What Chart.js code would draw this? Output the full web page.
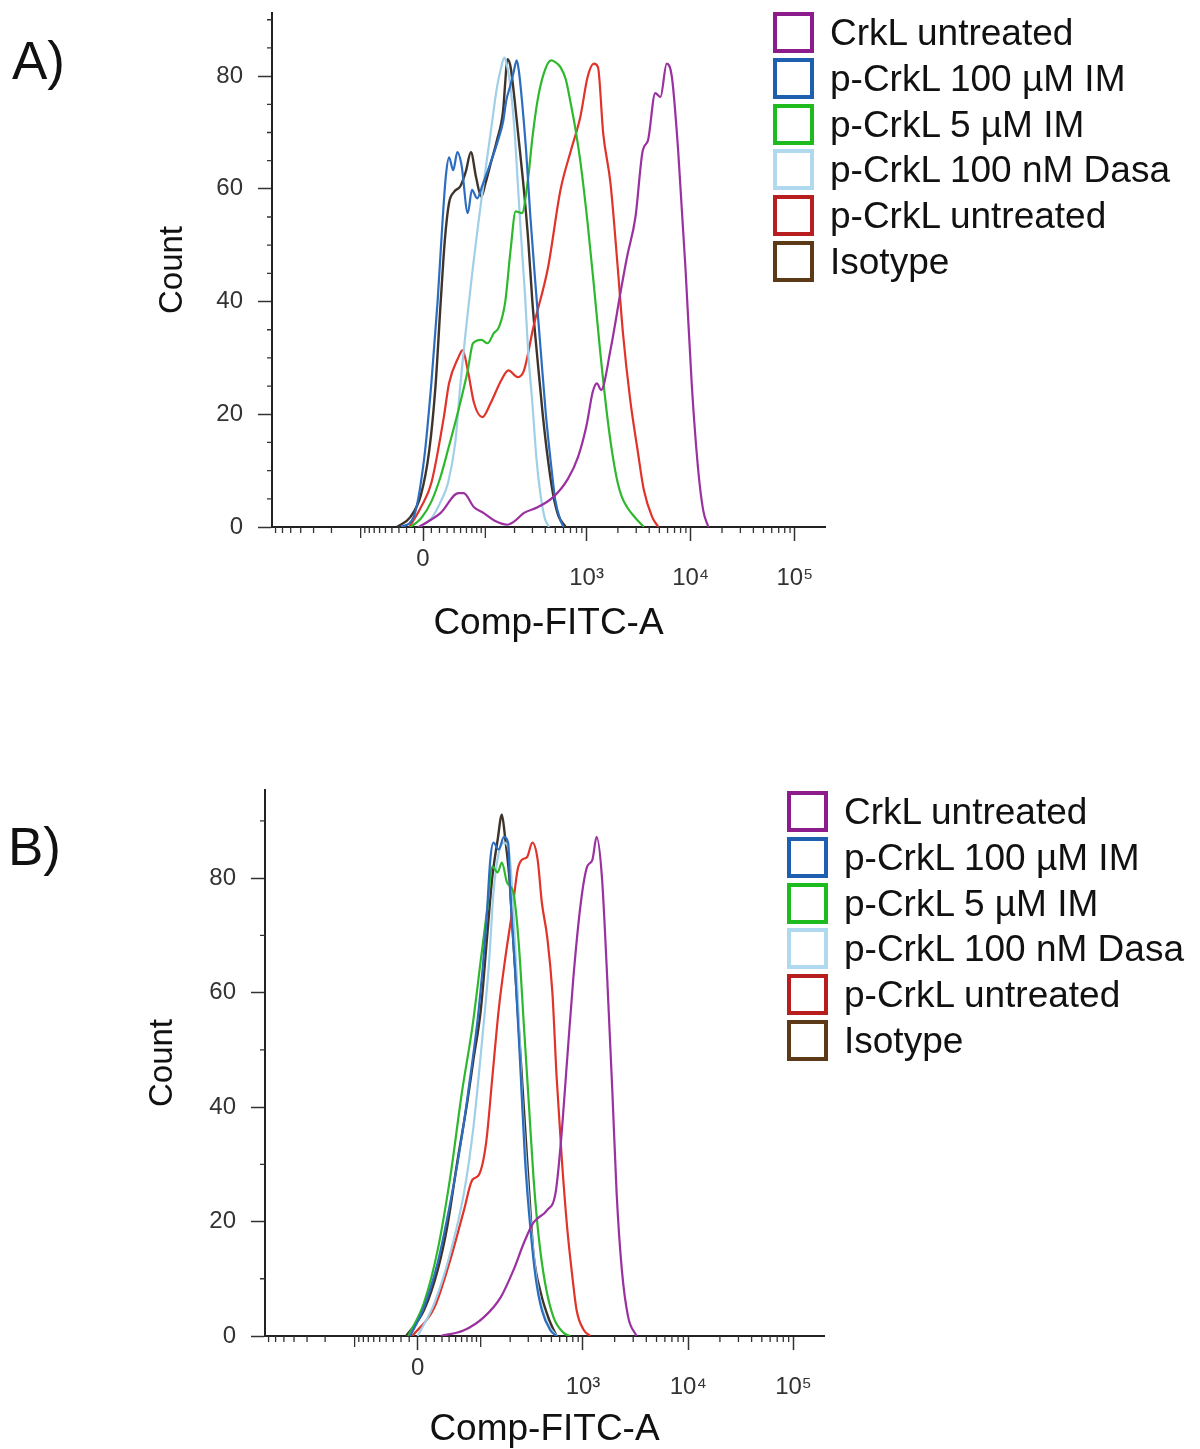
<!DOCTYPE html>
<html>
<head>
<meta charset="utf-8">
<title>CrkL / p-CrkL flow histograms</title>
<script src="https://cdn.jsdelivr.net/npm/chart.js@4.4.1/dist/chart.umd.min.js"></script>
<style>
  body { margin: 0; background: #fff; font-family: "Liberation Sans", Arial, sans-serif; }
  .panel { position: absolute; left: 0; width: 1200px; }
  .tag { position: absolute; font-size: 53px; line-height: 53px; color: #111; }
  .legend { position: absolute; }
  .legend .item { height: 45.7px; display: flex; align-items: center; font-size: 37px; line-height: 37px; color: #111; white-space: nowrap; }
  .legend .box { width: 41px; height: 41px; border: 4px solid; box-sizing: border-box; background: #fff; margin-right: 16px; }
</style>
</head>
<body>
<div class="panel" style="top:0; height:724px">
  <canvas id="chartA" width="1200" height="724"></canvas>
  <div class="tag" style="left:12px; top:34px">A)</div>
  <div class="legend" id="legendA" style="left:773px; top:10px"></div>
</div>
<div class="panel" style="top:724px; height:725px">
  <canvas id="chartB" width="1200" height="725"></canvas>
  <div class="tag" style="left:8px; top:96px">B)</div>
  <div class="legend" id="legendB" style="left:787px; top:65px"></div>
</div>
<script>
// series, in legend order
const seriesLabels = ['CrkL untreated', 'p-CrkL 100 µM IM', 'p-CrkL 5 µM IM', 'p-CrkL 100 nM Dasa', 'p-CrkL untreated', 'Isotype'];
const legendColors = ['#8C1C8C', '#1F5FAF', '#1EBB1E', '#B0D8EE', '#B81E1E', '#5C3A17'];
const lineColors = ['#9B30A0', '#2C6DC0', '#2EB82E', '#A0CFE8', '#E0332A', '#3E342C'];

// x is in display units (decades on the biexponential axis, 0 = zero), y is count
const aCrklUntreated = [[-0.04,0],[0.17,2.5],[0.34,6],[0.39,6],[0.49,3.5],[0.58,2.5],[0.68,1.2],[0.81,0.4],[0.87,0.9],[0.97,2.5],[1.10,3.5],[1.25,5.3],[1.39,8.5],[1.49,12.5],[1.57,18],[1.63,24],[1.67,25.5],[1.71,24.3],[1.80,31.4],[1.90,42],[1.96,48],[2.04,55],[2.11,66.8],[2.16,68.6],[2.23,77],[2.28,76.3],[2.34,82.2],[2.39,79.8],[2.45,66.8],[2.52,46],[2.58,25.5],[2.64,10.6],[2.69,3],[2.74,0]];
const aP100IM = [[-0.21,0],[-0.09,1.8],[0.01,12],[0.08,25.5],[0.14,40],[0.19,55],[0.22,62.4],[0.25,65.6],[0.29,63.3],[0.33,66.5],[0.37,64.2],[0.43,55.7],[0.47,59.8],[0.52,58.3],[0.57,60.6],[0.65,64.7],[0.72,68.6],[0.77,72],[0.80,75.7],[0.84,78.4],[0.87,80.7],[0.90,82.8],[0.92,81],[0.95,75.7],[0.99,66.8],[1.03,55.3],[1.08,43],[1.13,31.4],[1.18,19.9],[1.23,11],[1.27,4.8],[1.32,1.2],[1.35,0]];
const aP5IM = [[-0.12,0],[-0.02,1.5],[0.08,4.5],[0.17,9],[0.24,13.7],[0.34,20.7],[0.43,27.8],[0.48,32.6],[0.56,33.2],[0.62,32.6],[0.68,34.4],[0.73,35.5],[0.79,40],[0.84,49],[0.89,56],[0.95,55.7],[1.01,62],[1.05,69],[1.10,75.7],[1.16,80.5],[1.23,82.8],[1.27,82.5],[1.32,81.6],[1.37,79.5],[1.42,75],[1.46,71],[1.51,65],[1.58,54],[1.64,43],[1.70,31.4],[1.77,19.5],[1.82,12.8],[1.87,7.8],[1.91,5.3],[1.96,3.5],[2.04,1.6],[2.12,0]];
const aP100Dasa = [[-0.04,0],[0.08,1.5],[0.17,4.5],[0.24,7.8],[0.31,15],[0.36,25.5],[0.46,43],[0.56,58],[0.65,70],[0.71,78],[0.75,81.5],[0.78,83.3],[0.80,82.4],[0.84,78],[0.88,70],[0.91,61],[0.94,52],[0.98,41],[1.01,31],[1.05,22],[1.09,12],[1.13,5.5],[1.17,1.5],[1.21,0]];
const aPUntreated = [[-0.13,0],[-0.02,3.5],[0.08,7.8],[0.20,19.5],[0.25,25.5],[0.34,30.1],[0.38,31.4],[0.43,27.8],[0.49,22],[0.57,19.5],[0.65,22],[0.75,26],[0.82,27.8],[0.91,26.6],[0.97,27.8],[1.06,35.5],[1.20,46],[1.32,59.8],[1.42,66.8],[1.51,72.7],[1.58,79.8],[1.64,82.2],[1.68,81.6],[1.73,69.9],[1.80,61],[1.87,46],[1.92,34.4],[1.99,22.5],[2.06,13.7],[2.12,6.6],[2.20,1.8],[2.26,0]];
const aIsotype = [[-0.25,0],[-0.12,1.8],[-0.02,5.7],[0.06,13.6],[0.12,25],[0.17,40],[0.21,51],[0.25,57.5],[0.30,59.5],[0.36,60.5],[0.41,63],[0.46,66.5],[0.51,62],[0.56,58.6],[0.60,61],[0.65,64.5],[0.71,68.6],[0.77,74],[0.79,79],[0.81,83],[0.84,81.7],[0.88,75.7],[0.92,68.6],[0.96,61.5],[1.01,51],[1.05,40],[1.10,29.6],[1.15,19.9],[1.20,11.9],[1.25,5.7],[1.30,2],[1.37,0]];

const bCrklUntreated = [[0.22,0],[0.44,1],[0.63,3.3],[0.79,6.8],[0.91,11.5],[1.01,16.3],[1.10,19.8],[1.23,22],[1.31,25],[1.36,33.7],[1.42,48.3],[1.48,62.8],[1.55,75.7],[1.61,82],[1.66,83.2],[1.70,87.2],[1.75,80.3],[1.80,62.8],[1.85,42.5],[1.89,25],[1.94,11.5],[2.00,3.3],[2.08,0]];
const bP100IM = [[-0.07,0],[0.06,5],[0.19,12.8],[0.31,23.3],[0.41,33.7],[0.50,45.3],[0.58,57],[0.65,71.5],[0.69,83.2],[0.72,86.2],[0.77,85],[0.82,87.2],[0.86,86.2],[0.88,77.4],[0.93,62.8],[0.98,45.3],[1.02,30.8],[1.07,19],[1.12,10.3],[1.18,4.5],[1.26,1],[1.32,0]];
const bP5IM = [[-0.09,0],[0.06,5.8],[0.19,15],[0.31,27.8],[0.42,42.5],[0.52,54],[0.60,65.7],[0.66,74.5],[0.71,82],[0.76,81],[0.80,82.7],[0.85,79.2],[0.91,77.4],[0.96,68.7],[1.01,54],[1.06,39.5],[1.10,27.8],[1.15,17.3],[1.21,9.3],[1.29,3.3],[1.39,0.5],[1.45,0]];
const bP100Dasa = [[0,0],[0.16,5.8],[0.31,14.5],[0.44,25],[0.53,36.5],[0.61,51.2],[0.68,65.7],[0.72,77.4],[0.77,84.4],[0.82,86.2],[0.87,84.4],[0.90,77.4],[0.95,60],[0.99,42.5],[1.04,27.8],[1.09,16.3],[1.15,7.5],[1.23,2.3],[1.32,0]];
const bPUntreated = [[-0.05,0],[0.16,5],[0.31,13.3],[0.44,22],[0.52,27.3],[0.58,28.1],[0.65,33.7],[0.71,45.3],[0.77,57],[0.83,65.7],[0.90,74.5],[0.95,81.5],[0.99,83.2],[1.04,83.7],[1.09,86.2],[1.14,83.2],[1.18,75.7],[1.23,69.8],[1.28,60],[1.32,45.3],[1.37,30.8],[1.42,19],[1.47,10.3],[1.51,4.5],[1.58,1],[1.64,0]];
const bIsotype = [[-0.11,0],[0.06,4.5],[0.19,11.5],[0.28,19],[0.38,30.8],[0.47,40.7],[0.53,48.3],[0.60,57],[0.66,69.8],[0.71,80.3],[0.76,86.7],[0.80,91.1],[0.83,87.2],[0.87,80.3],[0.91,68.7],[0.96,54],[1.01,39.5],[1.06,25],[1.10,14.5],[1.17,7.5],[1.25,2.8],[1.32,0]];

// axis ticks
const xTickValues = [0, 1000, 10000, 100000];
const xTickLabels = ['0', '10³', '10⁴', '10⁵'];
const yTickValues = [0, 20, 40, 60, 80];

// biexponential display transform (channel value -> decades on screen)
const biexWidth = 26.9;
function biex(v) {
  return Math.asinh(v / (2 * biexWidth)) / Math.LN10;
}

const xMinorValues = [];
[10, 100, 1000, 10000].forEach(d => {
  for (let k = 1; k <= 9; k++) {
    if (d * k === 1000 || d * k === 10000) continue;
    xMinorValues.push(d * k, -d * k);
  }
});

Chart.defaults.font.family = '"Liberation Sans", Arial, sans-serif';
Chart.defaults.color = '#333';

const minorTicks = {
  id: 'minorTicks',
  afterDraw(chart, args, opts) {
    const { ctx, scales: { x, y } } = chart;
    ctx.save();
    ctx.strokeStyle = '#333';
    ctx.lineWidth = 1.3;
    ctx.beginPath();
    xMinorValues.forEach(v => {
      const px = x.getPixelForValue(biex(v));
      if (px < x.left + 1 || px > x.right) return;
      const len = Math.abs(v) === 100 ? 11 : 6;
      ctx.moveTo(px, y.bottom);
      ctx.lineTo(px, y.bottom + len);
    });
    opts.yValues.forEach(v => {
      const py = y.getPixelForValue(v);
      ctx.moveTo(x.left - 5, py);
      ctx.lineTo(x.left, py);
    });
    ctx.stroke();
    ctx.restore();
  }
};

function makeChart(id, series, cfg) {
  const datasets = series.map((pts, i) => ({
    label: seriesLabels[i],
    data: pts.map(p => ({ x: p[0], y: p[1] })),
    borderColor: lineColors[i],
    borderWidth: i === 5 ? 2.4 : 2.2,
    pointRadius: 0,
    fill: false,
    cubicInterpolationMode: 'monotone'
  }));

  return new Chart(document.getElementById(id), {
    type: 'line',
    data: { datasets: datasets },
    options: {
      responsive: false,
      animation: false,
      layout: { padding: cfg.padding },
      plugins: {
        legend: { display: false },
        tooltip: { enabled: false },
        minorTicks: { yValues: cfg.yMinor }
      },
      scales: {
        x: {
          type: 'linear',
          min: -1.45,
          max: 3.86,
          afterBuildTicks: scale => { scale.ticks = xTickValues.map(v => ({ value: biex(v) })); },
          afterFit: scale => { scale.height = cfg.xHeight; scale.paddingLeft = 0; scale.paddingRight = 0; },
          ticks: {
            autoSkip: false,
            maxRotation: 0,
            padding: 9,
            color: '#333',
            font: { size: 24, lineHeight: 0.78 },
            callback: (value, index) => index === 0 ? xTickLabels[0] : ['', xTickLabels[index]]
          },
          grid: { drawOnChartArea: false, drawTicks: true, tickLength: 14, tickColor: '#333', tickWidth: 1.5 },
          border: { display: true, color: '#222', width: 2 },
          title: {
            display: true,
            text: 'Comp-FITC-A',
            color: '#111',
            font: { size: 37, lineHeight: 1 },
            padding: { top: 0, bottom: cfg.xTitlePad }
          }
        },
        y: {
          min: 0,
          max: cfg.yMax,
          afterBuildTicks: scale => { scale.ticks = yTickValues.map(v => ({ value: v })); },
          afterFit: scale => { scale.width = cfg.yWidth; scale.paddingTop = 0; scale.paddingBottom = 0; },
          ticks: { padding: 15, color: '#333', font: { size: 24 } },
          grid: { drawOnChartArea: false, drawTicks: true, tickLength: 14, tickColor: '#333', tickWidth: 1.5 },
          border: { display: true, color: '#222', width: 2 },
          title: {
            display: true,
            text: 'Count',
            color: '#111',
            font: { size: 33, lineHeight: 1.2 },
            padding: { top: 0, bottom: 0 }
          }
        }
      }
    },
    plugins: [minorTicks]
  });
}

function makeLegend(id) {
  const el = document.getElementById(id);
  seriesLabels.forEach((label, i) => {
    const row = document.createElement('div');
    row.className = 'item';
    const box = document.createElement('span');
    box.className = 'box';
    box.style.borderColor = legendColors[i];
    row.appendChild(box);
    row.appendChild(document.createTextNode(label));
    el.appendChild(row);
  });
}

const yMinorA = [];
for (let v = 5; v <= 90; v += 5) if (v % 20 !== 0) yMinorA.push(v);
const yMinorB = [10, 30, 50, 70, 90];

makeChart('chartA', [aCrklUntreated, aP100IM, aP5IM, aP100Dasa, aPUntreated, aIsotype], {
  padding: { top: 13, left: 153, right: 375, bottom: 0 },
  yWidth: 119, xHeight: 197, xTitlePad: 82, yMax: 91.2, yMinor: yMinorA
});
makeChart('chartB', [bCrklUntreated, bP100IM, bP5IM, bP100Dasa, bPUntreated, bIsotype], {
  padding: { top: 66, left: 143, right: 376, bottom: 0 },
  yWidth: 122, xHeight: 113, xTitlePad: 1, yMax: 95.4, yMinor: yMinorB
});
makeLegend('legendA');
makeLegend('legendB');
</script>
</body>
</html>
